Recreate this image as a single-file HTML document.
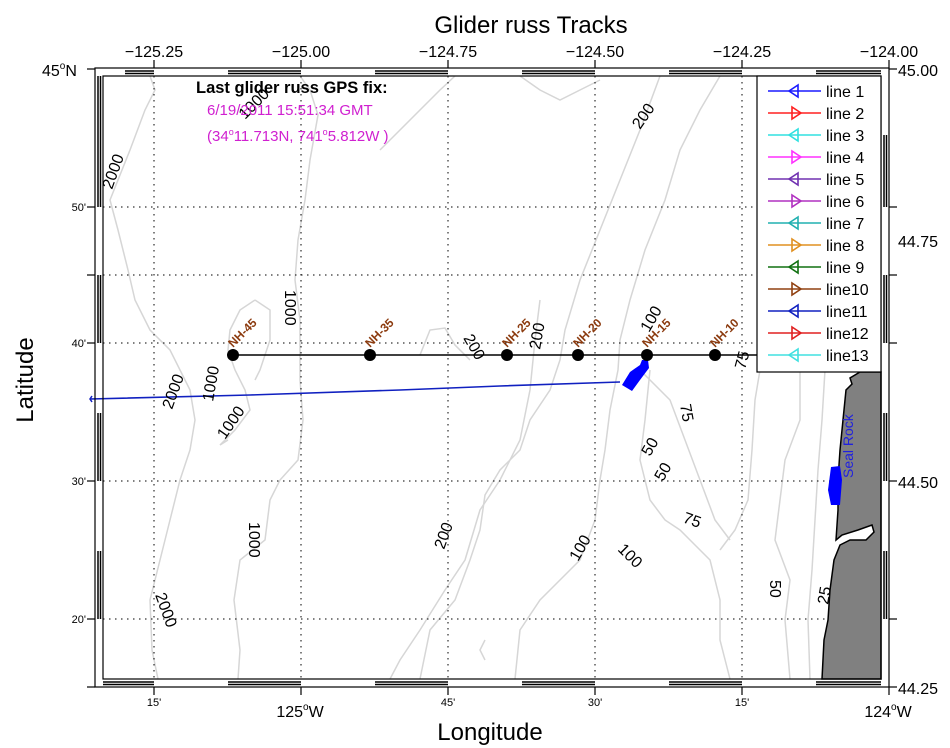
<!DOCTYPE html>
<html><head><meta charset="utf-8"><style>
html,body{margin:0;padding:0;background:#fff;}
svg{display:block;font-family:"Liberation Sans",sans-serif;}
</style></head><body>
<svg width="950" height="748" viewBox="0 0 950 748" xmlns="http://www.w3.org/2000/svg">
<rect width="950" height="748" fill="#fff"/>
<!-- contours -->
<g fill="none" stroke="#d6d6d6" stroke-width="1.5">
<path d="M150 76 L155 90 L145 110 L130 150 L120 175 L110 200 L118 230 L128 270 L135 300 L150 330 L170 350 L180 370 L190 390 L195 420 L190 450 L180 480 L170 520 L160 560 L150 600 L152 650 L158 679"/>
<path d="M300 76 L310 90 L318 115 L310 160 L305 200 L298 240 L295 280 L300 320 L300 380 L303 420 L298 460 L280 480 L270 500 L265 540 L240 560 L234 600 L240 650 L238 679"/>
<path d="M255 300 L240 310 L230 330 L228 350 L235 370 L245 390 L250 410 L235 430 L220 445 L228 440"/>
<path d="M255 300 L270 310 L270 340 L260 370 L255 380"/>
<path d="M380 150 L400 130 L420 110 L440 90 L455 76"/>
<path d="M420 355 L430 330 L445 328 L455 345 L470 360"/>
<path d="M520 76 L540 90 L560 100 L580 90 L600 80"/>
<path d="M540 300 L535 340 L530 390 L520 440 L500 480 L480 510 L465 560 L445 590 L420 630 L400 660 L390 679"/>
<path d="M660 76 L640 130 L620 180 L600 230 L580 280 L565 330 L560 360 L550 390 L530 420 L520 450 L500 470 L485 495 L480 530 L470 560 L455 600 L430 630 L420 679"/>
<path d="M720 76 L700 110 L680 150 L665 200 L645 250 L630 300 L620 340 L618 370 L610 410 L605 450 L600 480 L595 520 L580 560 L560 580 L540 600 L520 630 L515 679"/>
<path d="M640 370 L650 380 L670 400 L685 440 L700 480 L715 520 L730 540"/>
<path d="M650 370 L645 420 L640 460 L650 500 L665 520 L680 530 L695 545 L710 560 L720 600 L720 640 L730 679"/>
<path d="M760 370 L755 400 L752 450 L748 500 L735 530 L720 550"/>
<path d="M800 370 L800 420 L785 460 L780 500 L775 540 L790 580 L785 620 L790 679"/>
<path d="M825 370 L822 420 L818 470 L815 520 L812 570 L808 620 L810 679"/>
<path d="M485 640 L480 650 L485 660"/>
</g>
<!-- grid -->
<g stroke="#000" stroke-width="1" stroke-dasharray="1.5,4.5">
<line x1="154" y1="76" x2="154" y2="679"/><line x1="301" y1="76" x2="301" y2="679"/>
<line x1="448" y1="76" x2="448" y2="679"/><line x1="595" y1="76" x2="595" y2="679"/>
<line x1="742" y1="76" x2="742" y2="679"/>
<line x1="103" y1="207" x2="881" y2="207"/><line x1="103" y1="275" x2="881" y2="275"/>
<line x1="103" y1="343" x2="881" y2="343"/><line x1="103" y1="481" x2="881" y2="481"/>
<line x1="103" y1="619" x2="881" y2="619"/>
</g>
<!-- land -->
<path d="M881 372 L860 372 L850 378 L852 384 L846 390 L843 420 L840 450 L838 480 L838 510 L836 540 L842 535 L858 530 L872 525 L874 532 L866 540 L850 540 L840 545 L834 560 L830 590 L828 620 L824 640 L822 679 L881 679 Z" fill="#808080" stroke="#000" stroke-width="1.5"/>
<!-- seal rock -->
<path d="M831 467 L840 466 L842 480 L840 505 L831 505 L828 490 Z" fill="#0000ff"/>
<text transform="translate(853,478) rotate(-90)" font-size="14" fill="#2020e0">Seal Rock</text>
<!-- blue track -->
<path d="M90 399 L250 395 L400 390 L500 386 L620 382" fill="none" stroke="#1020c0" stroke-width="1.6"/>
<path d="M92 396 L90 399 L92 402" fill="none" stroke="#1020c0" stroke-width="1.5"/>
<path d="M622 385 L630 372 L640 365 L642 360 L648 360 L649 368 L640 380 L632 391 Z" fill="#0000ff"/>
<!-- line of stations -->
<line x1="233" y1="355" x2="757" y2="355" stroke="#000" stroke-width="1.6"/>
<g fill="#000">
<circle cx="233" cy="355" r="6"/><circle cx="370" cy="355" r="6"/><circle cx="507" cy="355" r="6"/>
<circle cx="578" cy="355" r="6"/><circle cx="647" cy="355" r="6"/><circle cx="715" cy="355" r="6"/>
</g>
<g fill="#8b3a0e" font-size="12" font-weight="bold">
<text transform="translate(233,348) rotate(-45)">NH-45</text>
<text transform="translate(370,348) rotate(-45)">NH-35</text>
<text transform="translate(507,348) rotate(-45)">NH-25</text>
<text transform="translate(578,348) rotate(-45)">NH-20</text>
<text transform="translate(647,348) rotate(-45)">NH-15</text>
<text transform="translate(715,348) rotate(-45)">NH-10</text>
</g>
<!-- contour labels -->
<g font-size="16" fill="#000">
<text transform="translate(112,190) rotate(-70)">2000</text>
<text transform="translate(172,410) rotate(-70)">2000</text>
<text transform="translate(155,595) rotate(70)">2000</text>
<text transform="translate(245,120) rotate(-45)">1000</text>
<text transform="translate(285,290) rotate(90)">1000</text>
<text transform="translate(213,402) rotate(-80)">1000</text>
<text transform="translate(225,440) rotate(-55)">1000</text>
<text transform="translate(249,522) rotate(90)">1000</text>
<text transform="translate(640,130) rotate(-55)">200</text>
<text transform="translate(463,338) rotate(60)">200</text>
<text transform="translate(540,350) rotate(-80)">200</text>
<text transform="translate(444,550) rotate(-70)">200</text>
<text transform="translate(649,333) rotate(-60)">100</text>
<text transform="translate(578,562) rotate(-60)">100</text>
<text transform="translate(617,550) rotate(45)">100</text>
<text transform="translate(745,370) rotate(-75)">75</text>
<text transform="translate(680,405) rotate(80)">75</text>
<text transform="translate(682,522) rotate(20)">75</text>
<text transform="translate(650,457) rotate(-60)">50</text>
<text transform="translate(663,482) rotate(-60)">50</text>
<text transform="translate(770,580) rotate(90)">50</text>
<text transform="translate(828,605) rotate(-80)">25</text>
</g>
<!-- frame band -->
<rect x="95" y="68" width="794" height="619" fill="none" stroke="#000" stroke-width="1.2"/>
<rect x="103" y="76" width="778" height="603" fill="none" stroke="#000" stroke-width="1.2"/>
<g stroke="#000" stroke-width="1.5" fill="none">
<path d="M125 71 H154 M125 73.5 H154 M228 71 H301 M228 73.5 H301 M375 71 H448 M375 73.5 H448 M522 71 H595 M522 73.5 H595 M669 71 H742 M669 73.5 H742 M816 71 H881 M816 73.5 H881"/>
<path d="M103 682 H154 M103 684.5 H154 M228 682 H301 M228 684.5 H301 M375 682 H448 M375 684.5 H448 M522 682 H595 M522 684.5 H595 M669 682 H742 M669 684.5 H742 M816 682 H881 M816 684.5 H881"/>
<path d="M98 76 V207 M100.5 76 V207 M98 275 V343 M100.5 275 V343 M98 413 V481 M100.5 413 V481 M98 551 V619 M100.5 551 V619"/>
<path d="M884 135 V207 M886.5 135 V207 M884 275 V343 M886.5 275 V343 M884 413 V481 M886.5 413 V481 M884 551 V619 M886.5 551 V619"/>
</g>
<g stroke="#000" stroke-width="1.2">
<line x1="87" y1="69" x2="95" y2="69"/><line x1="87" y1="207" x2="95" y2="207"/><line x1="87" y1="275" x2="95" y2="275"/><line x1="87" y1="343" x2="95" y2="343"/><line x1="87" y1="481" x2="95" y2="481"/><line x1="87" y1="619" x2="95" y2="619"/><line x1="87" y1="687" x2="95" y2="687"/>
<line x1="889" y1="69" x2="897" y2="69"/><line x1="889" y1="207" x2="897" y2="207"/><line x1="889" y1="275" x2="897" y2="275"/><line x1="889" y1="343" x2="897" y2="343"/><line x1="889" y1="481" x2="897" y2="481"/><line x1="889" y1="619" x2="897" y2="619"/><line x1="889" y1="687" x2="897" y2="687"/>
<line x1="154" y1="60" x2="154" y2="68"/><line x1="301" y1="60" x2="301" y2="68"/><line x1="448" y1="60" x2="448" y2="68"/><line x1="595" y1="60" x2="595" y2="68"/><line x1="742" y1="60" x2="742" y2="68"/><line x1="889" y1="60" x2="889" y2="68"/>
<line x1="154" y1="687" x2="154" y2="695"/><line x1="301" y1="687" x2="301" y2="695"/><line x1="448" y1="687" x2="448" y2="695"/><line x1="595" y1="687" x2="595" y2="695"/><line x1="742" y1="687" x2="742" y2="695"/><line x1="889" y1="687" x2="889" y2="695"/>
</g>
<!-- tick labels -->
<g font-size="16" fill="#000" text-anchor="middle">
<text x="154" y="57">−125.25</text><text x="301" y="57">−125.00</text><text x="448" y="57">−124.75</text>
<text x="595" y="57">−124.50</text><text x="742" y="57">−124.25</text><text x="889" y="57">−124.00</text>
</g>
<g font-size="16" fill="#000">
<text x="898" y="76">45.00</text><text x="898" y="247">44.75</text><text x="898" y="488">44.50</text><text x="898" y="694">44.25</text>
<text x="42" y="76">45<tspan font-size="10" dy="-7">o</tspan><tspan dy="7">N</tspan></text>
</g>
<g font-size="11" fill="#000" text-anchor="end">
<text x="86" y="211">50'</text><text x="86" y="347">40'</text><text x="86" y="485">30'</text><text x="86" y="623">20'</text>
</g>
<g font-size="11" fill="#000" text-anchor="middle">
<text x="154" y="706">15'</text><text x="448" y="706">45'</text><text x="595" y="706">30'</text><text x="742" y="706">15'</text>
</g>
<g font-size="16" fill="#000" text-anchor="middle">
<text x="300" y="717">125<tspan font-size="10" dy="-7">o</tspan><tspan dy="7">W</tspan></text>
<text x="888" y="717">124<tspan font-size="10" dy="-7">o</tspan><tspan dy="7">W</tspan></text>
</g>
<!-- titles -->
<text x="531" y="33" font-size="24" text-anchor="middle">Glider russ Tracks</text>
<text x="490" y="740" font-size="24" text-anchor="middle">Longitude</text>
<text transform="translate(33,380) rotate(-90)" font-size="24" text-anchor="middle">Latitude</text>
<!-- GPS fix -->
<text x="196" y="93" font-size="16.5" font-weight="bold">Last glider russ GPS fix:</text>
<text x="207" y="115" font-size="15" fill="#d020d0">6/19/2011 15:51:34 GMT</text>
<text x="207" y="141" font-size="15" fill="#d020d0">(34<tspan font-size="9" dy="-6">o</tspan><tspan dy="6">11.713N, 741</tspan><tspan font-size="9" dy="-6">o</tspan><tspan dy="6">5.812W )</tspan></text>
<!-- legend -->
<rect x="757" y="76" width="124" height="296" fill="#fff" stroke="#000" stroke-width="1.2"/>
<g font-size="16" fill="#000">
<text x="826" y="97">line 1</text><text x="826" y="119">line 2</text><text x="826" y="141">line 3</text>
<text x="826" y="163">line 4</text><text x="826" y="185">line 5</text><text x="826" y="207">line 6</text>
<text x="826" y="229">line 7</text><text x="826" y="251">line 8</text><text x="826" y="273">line 9</text>
<text x="826" y="295">line10</text><text x="826" y="317">line11</text><text x="826" y="339">line12</text>
<text x="826" y="361">line13</text>
</g>
<g fill="none" stroke-width="1.6">
<g stroke="#1a1aff"><line x1="768" y1="91" x2="821" y2="91"/><path d="M798 85 L789 91 L798 97 Z"/></g>
<g stroke="#ff2020"><line x1="768" y1="113" x2="821" y2="113"/><path d="M792 107 L801 113 L792 119 Z"/></g>
<g stroke="#30e0e0"><line x1="768" y1="135" x2="821" y2="135"/><path d="M798 129 L789 135 L798 141 Z"/></g>
<g stroke="#ff30ff"><line x1="768" y1="157" x2="821" y2="157"/><path d="M792 151 L801 157 L792 163 Z"/></g>
<g stroke="#7030b0"><line x1="768" y1="179" x2="821" y2="179"/><path d="M798 173 L789 179 L798 185 Z"/></g>
<g stroke="#b030c0"><line x1="768" y1="201" x2="821" y2="201"/><path d="M792 195 L801 201 L792 207 Z"/></g>
<g stroke="#20b0b0"><line x1="768" y1="223" x2="821" y2="223"/><path d="M798 217 L789 223 L798 229 Z"/></g>
<g stroke="#e09020"><line x1="768" y1="245" x2="821" y2="245"/><path d="M792 239 L801 245 L792 251 Z"/></g>
<g stroke="#107010"><line x1="768" y1="267" x2="821" y2="267"/><path d="M798 261 L789 267 L798 273 Z"/></g>
<g stroke="#904010"><line x1="768" y1="289" x2="821" y2="289"/><path d="M792 283 L801 289 L792 295 Z"/></g>
<g stroke="#1020c0"><line x1="768" y1="311" x2="821" y2="311"/><path d="M798 305 L789 311 L798 317 Z"/></g>
<g stroke="#e02020"><line x1="768" y1="333" x2="821" y2="333"/><path d="M792 327 L801 333 L792 339 Z"/></g>
<g stroke="#40e0e0"><line x1="768" y1="355" x2="821" y2="355"/><path d="M798 349 L789 355 L798 361 Z"/></g>
</g>
</svg>
</body></html>
